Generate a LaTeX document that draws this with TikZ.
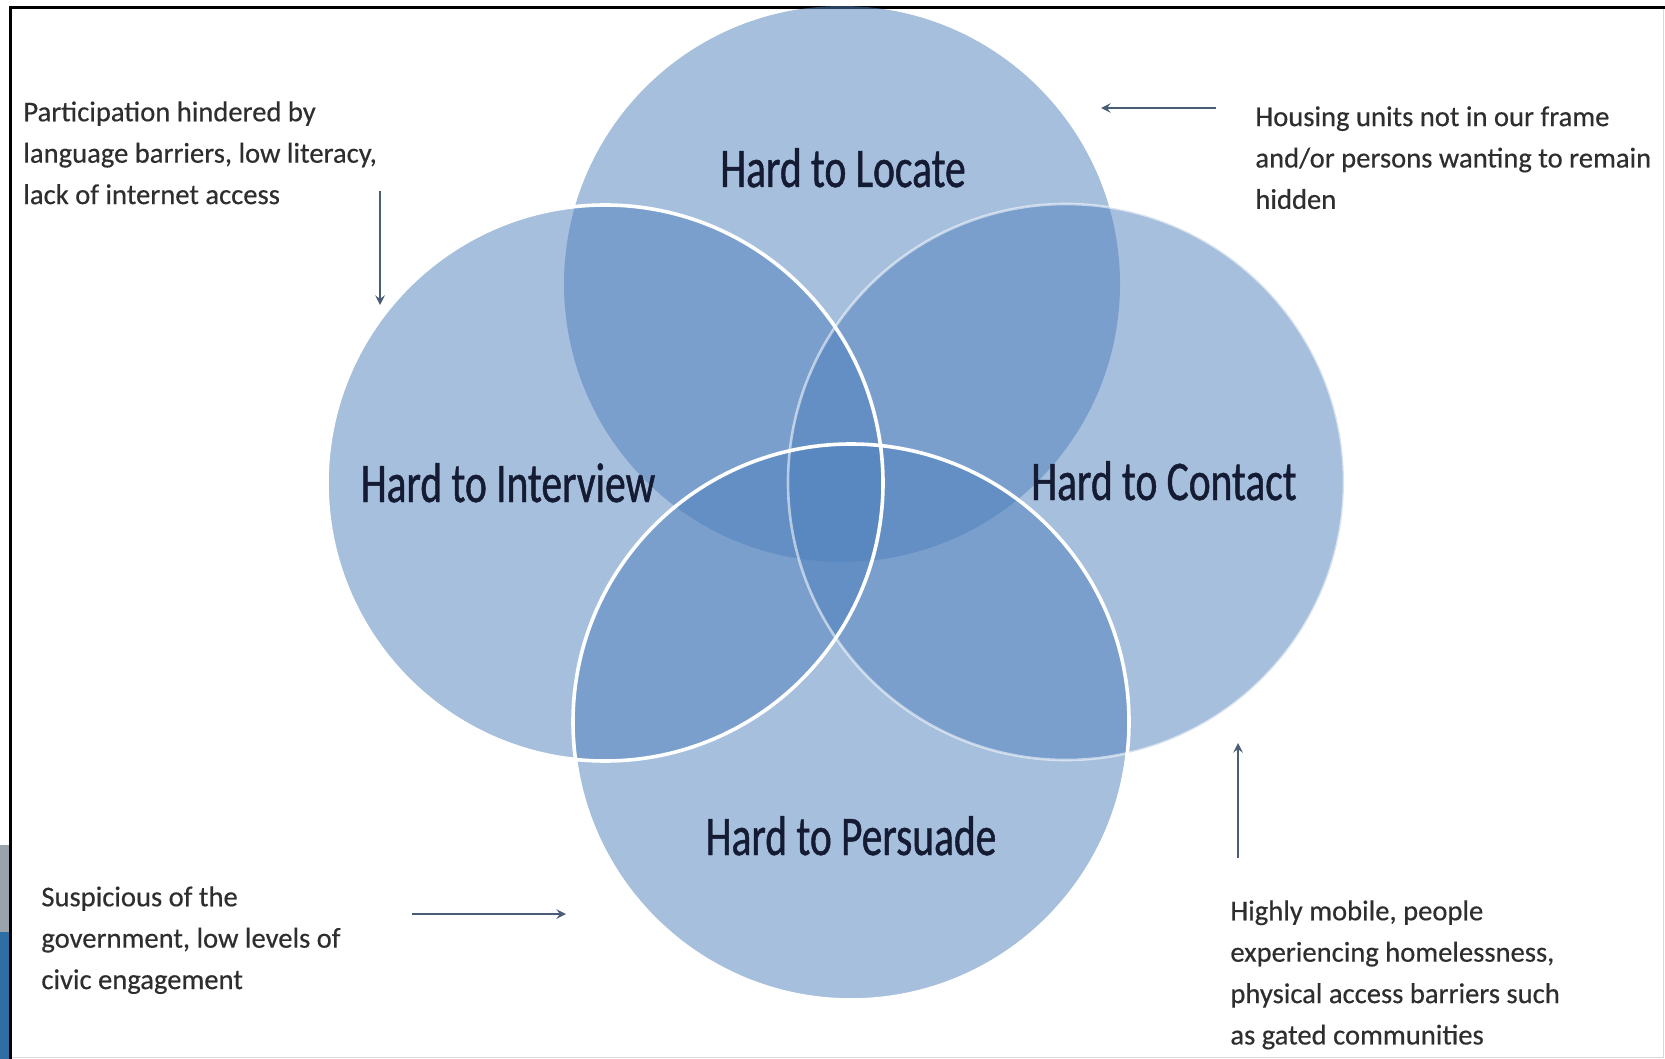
\documentclass[tikz,border=0pt]{standalone}
\usepackage{fontspec}
\setmainfont{Carlito}
\newfontfamily\notefont[FakeBold=0.4]{Carlito}
\newfontfamily\hardfont[FakeStretch=0.74, FakeBold=0.8]{Carlito}
\usetikzlibrary{positioning}
\definecolor{vennblue}{HTML}{4F81BD}
\definecolor{notegrey}{HTML}{2E2E2E}
\definecolor{labelnavy}{HTML}{141B33}
\definecolor{arrowslate}{HTML}{4A5D76}
\definecolor{stripgrey}{HTML}{9AA3AB}
\definecolor{stripblue}{HTML}{2F6EA5}

\begin{document}
\begin{tikzpicture}[x=0.5pt, y=-0.5pt]

    % Define styles
    \tikzset{
        venn/.style = {circle, minimum size=278pt, inner sep=0pt, fill=vennblue, fill opacity=0.5},
        rim/.style = {draw=white, line width=1.8pt},
        hardlabel/.style = {font=\hardfont\fontsize{28}{34}\selectfont, text=labelnavy, anchor=base, inner sep=0pt},
        note/.style = {font=\notefont\fontsize{14.3}{20.7}\selectfont, text=notegrey, align=left, anchor=north west, inner sep=0pt},
        arrow/.style = {line width=1.1pt, draw=arrowslate, ->, >=stealth}
    }

    \useasboundingbox (0,0) rectangle (1665,1059);
    \fill[white] (0,0) rectangle (1665,1059);

    % Strip at the left edge
    \fill[stripgrey] (0,845) rectangle (10,932);
    \fill[stripblue] (0,932) rectangle (10,1059);

    % Frame
    \draw[black!15, line width=0.5pt] (10,1057) -- (1663,1057) -- (1663,8);
    \draw[line width=1.5pt] (10,1059) -- (10,8) -- (1665,8);

    % Circles
    \node (locate) [venn] at (842,284) {};
    \node (contact) [venn] at (1066,482) {};
    \node (interview) [venn] at (605,483) {};
    \node (persuade) [venn] at (851,722) {};

    % Rims
    \draw[rim, draw opacity=0.55, line width=1.3pt] (contact.center) circle[radius=139pt];
    \draw[rim] (interview.center) circle[radius=139pt];
    \draw[rim] (persuade.center) circle[radius=139pt];

    % Labels
    \node (tlocate) [hardlabel] at (843,187) {Hard to Locate};
    \node (tinterview) [hardlabel] at (508,502) {Hard to Interview};
    \node (tcontact) [hardlabel] at (1164,500) {Hard to Contact};
    \node (tpersuade) [hardlabel] at (851,855) {Hard to Persuade};

    % Notes
    \node (nlanguage) [note] at (23,101) {Participation hindered by\\language barriers, low literacy,\\lack of internet access};
    \node (nhousing) [note] at (1255,106) {Housing units not in our frame\\and/or persons wanting to remain\\hidden};
    \node (nsuspicious) [note] at (41,886) {Suspicious of the\\government, low levels of\\civic engagement};
    \node (nmobile) [note] at (1230,900) {Highly mobile, people\\experiencing homelessness,\\physical access barriers such\\as gated communities};

    % Arrows
    \coordinate (alanguage) at (380,191);
    \coordinate (blanguage) at (380,305);
    \coordinate (ahousing) at (1216,108);
    \coordinate (bhousing) at (1101,108);
    \coordinate (asuspicious) at (412,914);
    \coordinate (bsuspicious) at (566,914);
    \coordinate (amobile) at (1238,858);
    \coordinate (bmobile) at (1238,743);
    \draw [arrow] (alanguage) -- (blanguage);
    \draw [arrow] (ahousing) -- (bhousing);
    \draw [arrow] (asuspicious) -- (bsuspicious);
    \draw [arrow] (amobile) -- (bmobile);
\end{tikzpicture}
\end{document}
